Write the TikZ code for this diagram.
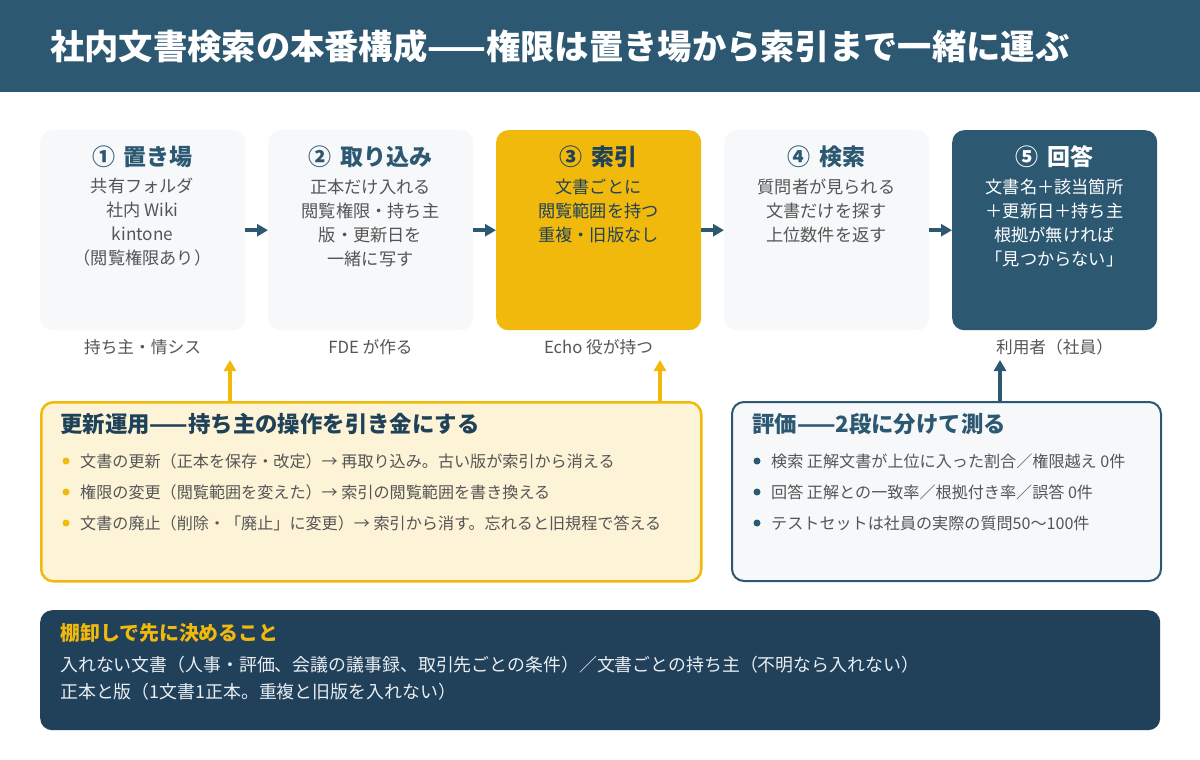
\documentclass[tikz,border=0pt]{standalone}
\usepackage{fontspec}
\setmainfont{Noto Sans CJK JP}
\usetikzlibrary{arrows.meta}
\definecolor{hdr}{HTML}{2C5872}
\definecolor{amber}{HTML}{F0B90B}
\definecolor{navy}{HTML}{21405A}
\definecolor{boxfill}{HTML}{F6F8FA}
\definecolor{lpfill}{HTML}{FDF3D6}
\definecolor{txtgray}{HTML}{555555}
\definecolor{ttldark}{HTML}{1F4259}
\definecolor{lighttxt}{HTML}{E8EEF2}
\tikzset{
  stagebox/.style={anchor=north west, minimum width=205pt, minimum height=200pt, rounded corners=12pt, inner sep=0pt},
  stagettl/.style={font=\fontsize{23}{28}\selectfont\bfseries, text=hdr, inner sep=0pt},
  stagebody/.style={font=\fontsize{17.2}{24}\selectfont, text=txtgray, align=center, inner sep=0pt},
  stagelbl/.style={font=\fontsize{16.7}{20}\selectfont, text=txtgray, inner sep=0pt},
  flow/.style={draw=hdr, line width=4pt, -{Triangle[length=11pt,width=12pt]}},
  panelttl/.style={anchor=west, font=\fontsize{22.4}{26}\selectfont\bfseries, inner sep=0pt},
  bullettxt/.style={anchor=west, font=\fontsize{16.1}{20}\selectfont, text=txtgray, inner sep=0pt},
}
\newcommand{\numgap}{\hspace{0.35em}}
\begin{document}
\begin{tikzpicture}[x=1pt,y=-1pt]
\useasboundingbox (0,0) rectangle (1200,760);
% header
\fill[hdr] (0,0) rectangle (1200,92);
\node[anchor=west, text=white, font=\fontsize{34.3}{40}\selectfont\bfseries, inner sep=0pt] (title) at (50,46) {社内文書検索の本番構成——権限は置き場から索引まで一緒に運ぶ};
% stage boxes
\node[stagebox, fill=boxfill] (b1) at (40,130) {};
\node[stagebox, fill=boxfill] (b2) at (268,130) {};
\node[stagebox, fill=amber] (b3) at (496,130) {};
\node[stagebox, fill=boxfill] (b4) at (724,130) {};
\node[stagebox, fill=hdr] (b5) at (952,130) {};
% titles
\node[stagettl] (t1) at (142.5,157) {①\numgap 置き場};
\node[stagettl] (t2) at (370.5,157) {②\numgap 取り込み};
\node[stagettl, text=ttldark] (t3) at (598.5,157) {③\numgap 索引};
\node[stagettl] (t4) at (826.5,157) {④\numgap 検索};
\node[stagettl, text=white] (t5) at (1054.5,157) {⑤\numgap 回答};
% bodies
\node[stagebody] (d1) at (142.5,222.5) {共有フォルダ\\社内 Wiki\\kintone\\（閲覧権限あり）};
\node[stagebody] (d2) at (370.5,222.5) {正本だけ入れる\\閲覧権限・持ち主\\版・更新日を\\一緒に写す};
\node[stagebody, text=ttldark] (d3) at (598.5,211) {文書ごとに\\閲覧範囲を持つ\\重複・旧版なし};
\node[stagebody] (d4) at (826.5,211) {質問者が見られる\\文書だけを探す\\上位数件を返す};
\node[stagebody, text=white] (d5) at (1054.5,222.5) {文書名＋該当箇所\\＋更新日＋持ち主\\根拠が無ければ\\「見つからない」};
% labels
\node[stagelbl] (l1) at (142.5,347) {持ち主・情シス};
\node[stagelbl] (l2) at (370.5,347) {FDE が作る};
\node[stagelbl] (l3) at (598.5,347) {Echo 役が持つ};
\node[stagelbl] (l5) at (1054.5,347) {利用者（社員）};
% flow arrows
\draw[flow] (b1.east) -- (b2.west);
\draw[flow] (b2.east) -- (b3.west);
\draw[flow] (b3.east) -- (b4.west);
\draw[flow] (b4.east) -- (b5.west);
% left panel
\node[anchor=north west, minimum width=660pt, minimum height=179pt, rounded corners=12pt, draw=amber, line width=2.5pt, fill=lpfill, inner sep=0pt] (lp) at (40,401) {};
\node[panelttl, text=ttldark] (lpt) at (60,424) {更新運用——持ち主の操作を引き金にする};
\fill[amber] (66,461) circle (3.5);
\fill[amber] (66,492) circle (3.5);
\fill[amber] (66,523) circle (3.5);
\node[bullettxt] (lb1) at (80,461) {文書の更新（正本を保存・改定）→ 再取り込み。古い版が索引から消える};
\node[bullettxt] (lb2) at (80,492) {権限の変更（閲覧範囲を変えた）→ 索引の閲覧範囲を書き換える};
\node[bullettxt] (lb3) at (80,523) {文書の廃止（削除・「廃止」に変更）→ 索引から消す。忘れると旧規程で答える};
% right panel
\node[anchor=north west, minimum width=429pt, minimum height=179pt, rounded corners=12pt, draw=hdr, line width=2pt, fill=boxfill, inner sep=0pt] (rp) at (731,401) {};
\node[panelttl, text=hdr] (rpt) at (752,424) {評価——2段に分けて測る};
\fill[hdr] (757,461) circle (3.5);
\fill[hdr] (757,492) circle (3.5);
\fill[hdr] (757,523) circle (3.5);
\node[bullettxt] (rb1) at (771,461) {検索 正解文書が上位に入った割合／権限越え 0件};
\node[bullettxt] (rb2) at (771,492) {回答 正解との一致率／根拠付き率／誤答 0件};
\node[bullettxt] (rb3) at (771,523) {テストセットは社員の実際の質問50〜100件};
% vertical arrows
\coordinate (u1) at (230,360);
\coordinate (u2) at (660,360);
\coordinate (u3) at (1000,360);
\draw[flow, draw=amber] (u1 |- lp.north) -- (u1);
\draw[flow, draw=amber] (u2 |- lp.north) -- (u2);
\draw[flow] (u3 |- rp.north) -- (u3);
% bottom panel
\node[anchor=north west, minimum width=1120pt, minimum height=120pt, rounded corners=12pt, fill=navy, inner sep=0pt] (bp) at (40,610) {};
\node[anchor=west, font=\fontsize{19.9}{24}\selectfont\bfseries, text=amber, inner sep=0pt] (bpt) at (60,633) {棚卸しで先に決めること};
\node[anchor=west, font=\fontsize{17.9}{22}\selectfont, text=lighttxt, inner sep=0pt] (bp1) at (60,665) {入れない文書（人事・評価、会議の議事録、取引先ごとの条件）／文書ごとの持ち主（不明なら入れない）};
\node[anchor=west, font=\fontsize{17.9}{22}\selectfont, text=lighttxt, inner sep=0pt] (bp2) at (60,692) {正本と版（1文書1正本。重複と旧版を入れない）};
\end{tikzpicture}
\end{document}
